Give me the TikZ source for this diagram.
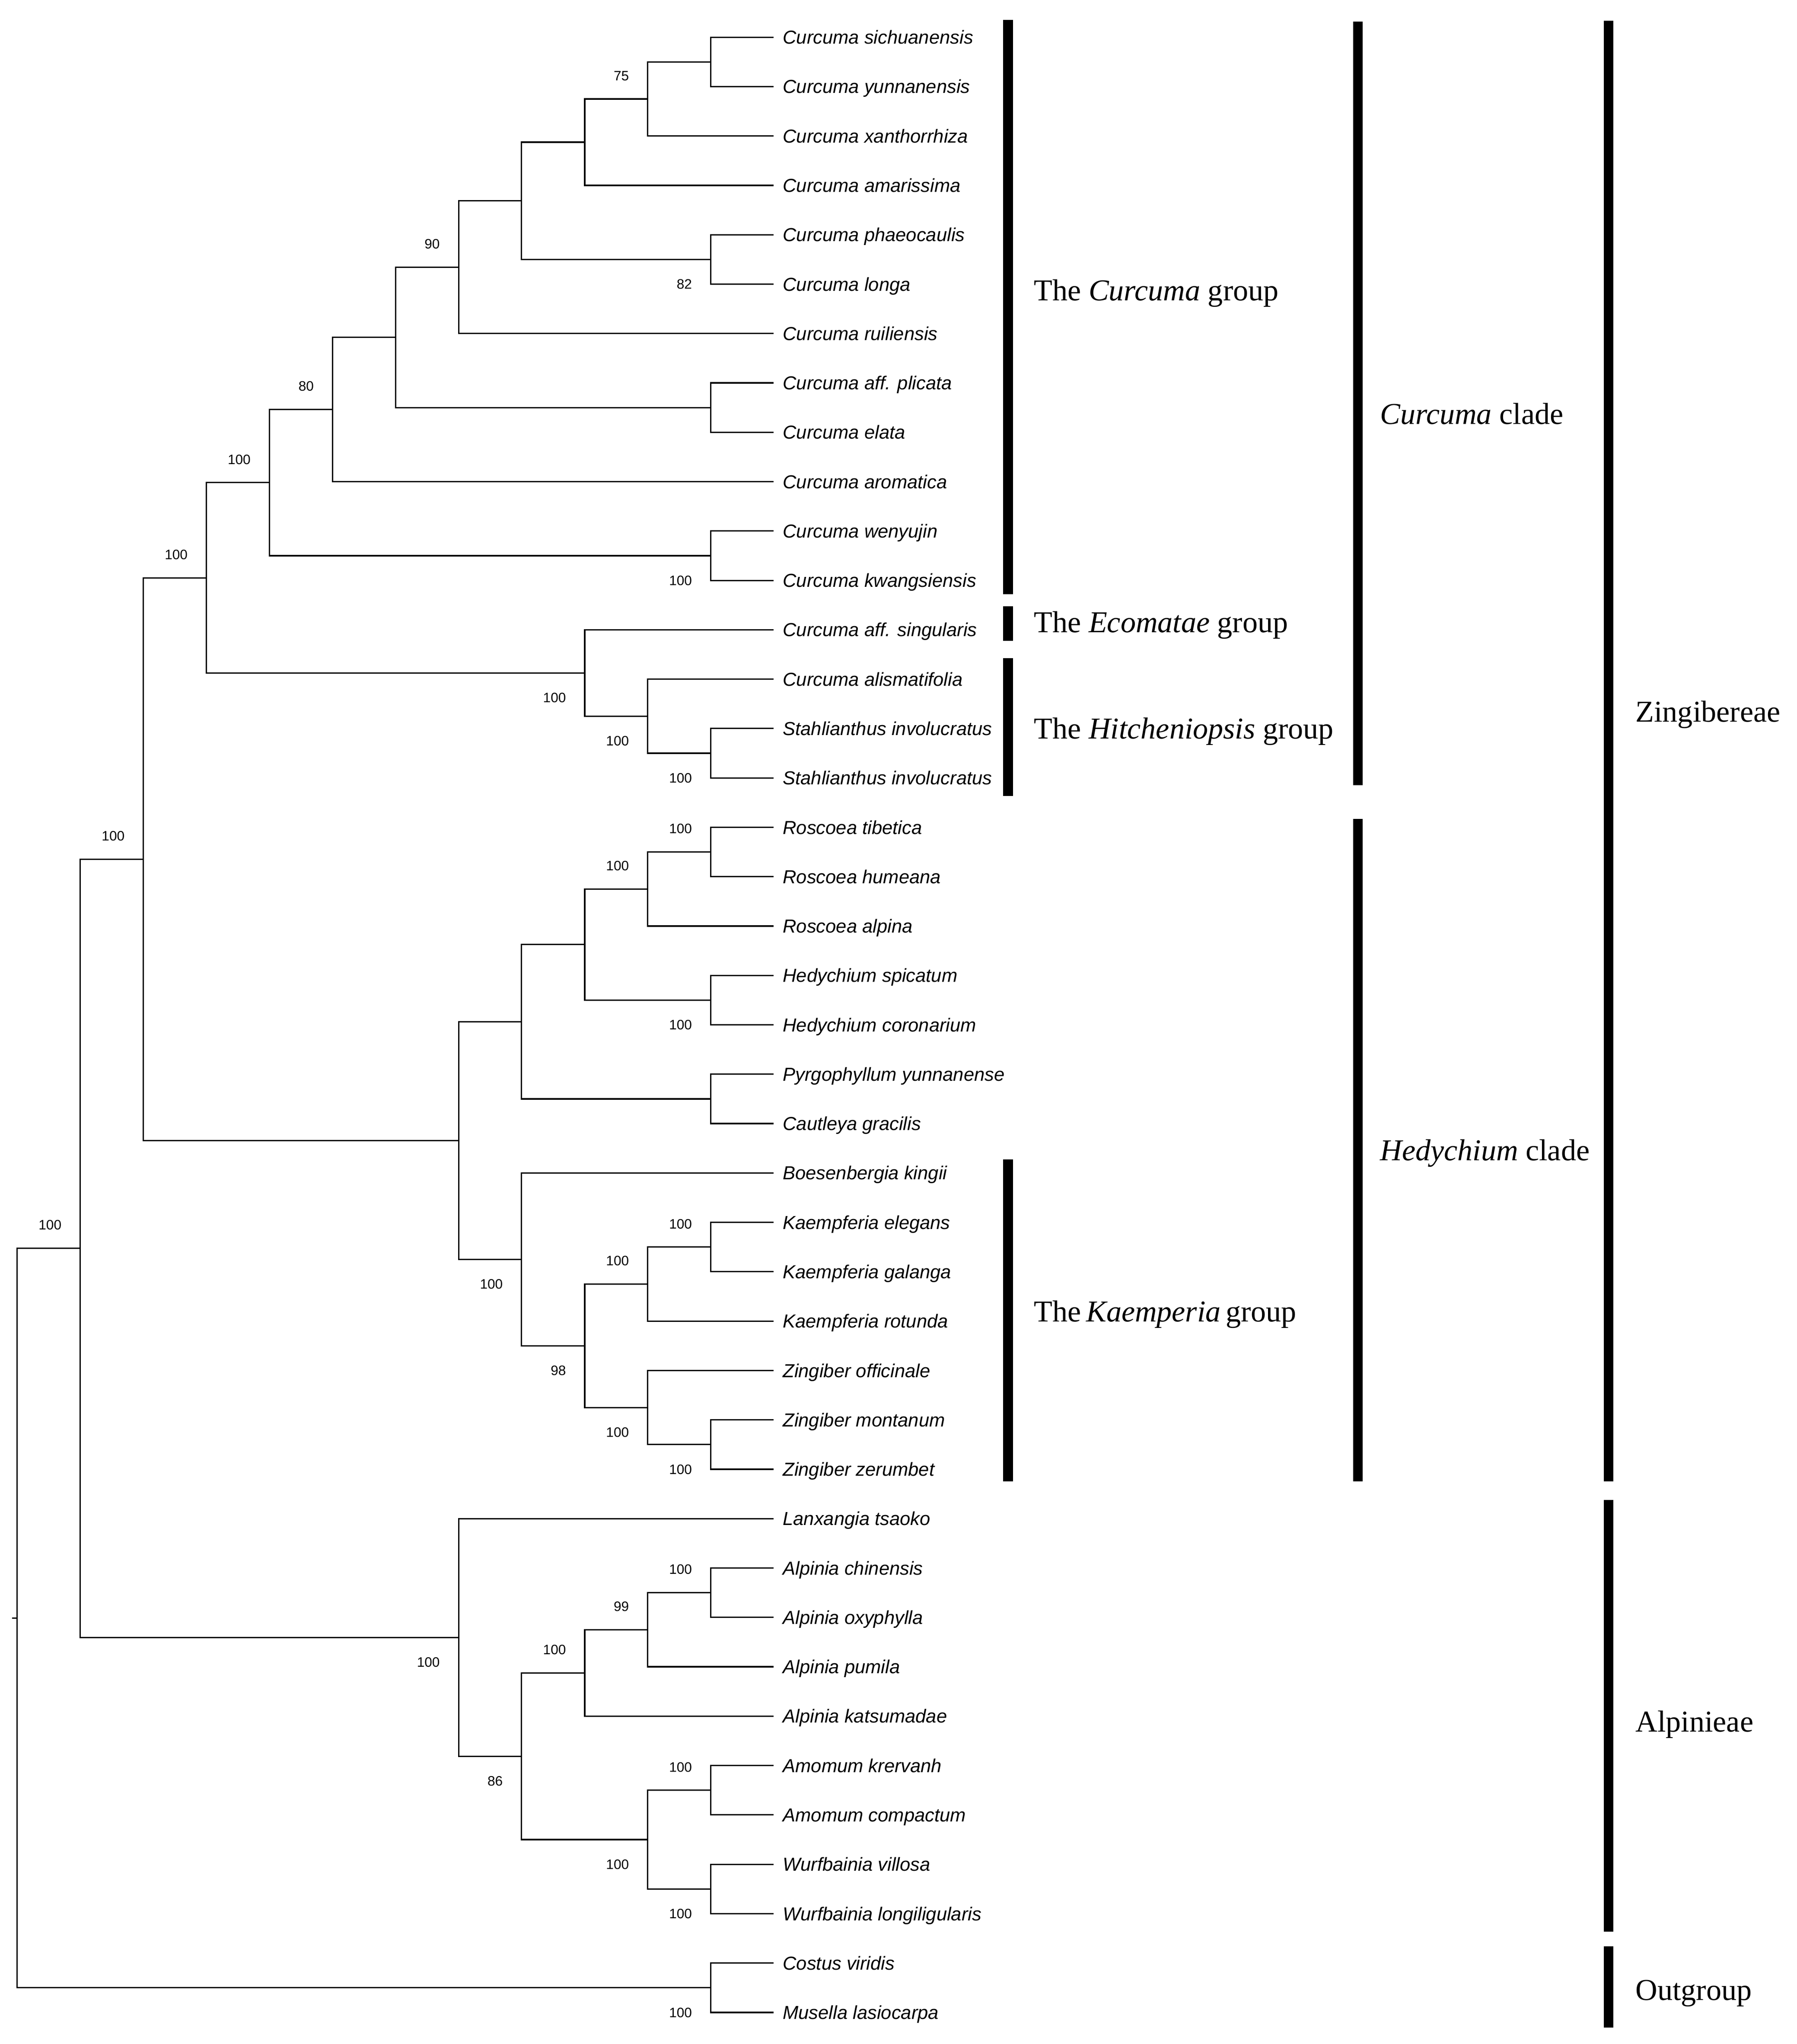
\documentclass[tikz,border=0pt]{standalone}
\usepackage{fontspec}
\setmainfont{Liberation Serif}
\setsansfont{Liberation Sans}

\begin{document}
\begin{tikzpicture}[x=0.02cm,y=-0.02cm,line width=0.6pt,
    leaf/.style={anchor=west,inner xsep=0.13cm,inner ysep=0pt,text height=0.208cm,text depth=0pt,font=\fontsize{8.26}{10}\selectfont\sffamily\itshape},
    boot/.style={anchor=east,inner sep=0pt,text height=0.15cm,text depth=0pt,font=\fontsize{6}{7}\selectfont\sffamily},
    bsa/.style={boot,xshift=-0.28cm,yshift=0.36cm},
    bsb/.style={boot,xshift=-0.28cm,yshift=-0.38cm},
    grp/.style={anchor=west,inner sep=0pt,text height=0.31cm,text depth=0pt,font=\fontsize{13.3}{16}\selectfont},
    bar/.style={line width=0.15cm}]
            \useasboundingbox (0,0) rectangle (1386,1576.67);

            % taxa
            \node [leaf] (sichuanensis) at (596.8,28.70) {Curcuma sichuanensis};
            \node [leaf] (yunnanensis) at (596.8,66.79) {Curcuma yunnanensis};
            \node [leaf] (xanthorrhiza) at (596.8,104.88) {Curcuma xanthorrhiza};
            \node [leaf] (amarissima) at (596.8,142.97) {Curcuma amarissima};
            \node [leaf] (phaeocaulis) at (596.8,181.06) {Curcuma phaeocaulis};
            \node [leaf] (longa) at (596.8,219.15) {Curcuma longa};
            \node [leaf] (ruiliensis) at (596.8,257.24) {Curcuma ruiliensis};
            \node [leaf] (plicata) at (596.8,295.33) {Curcuma aff. plicata};
            \node [leaf] (elata) at (596.8,333.42) {Curcuma elata};
            \node [leaf] (aromatica) at (596.8,371.51) {Curcuma aromatica};
            \node [leaf] (wenyujin) at (596.8,409.60) {Curcuma wenyujin};
            \node [leaf] (kwangsiensis) at (596.8,447.69) {Curcuma kwangsiensis};
            \node [leaf] (singularis) at (596.8,485.78) {Curcuma aff. singularis};
            \node [leaf] (alismatifolia) at (596.8,523.87) {Curcuma alismatifolia};
            \node [leaf] (stahlA) at (596.8,561.96) {Stahlianthus involucratus};
            \node [leaf] (stahlB) at (596.8,600.05) {Stahlianthus involucratus};
            \node [leaf] (tibetica) at (596.8,638.14) {Roscoea tibetica};
            \node [leaf] (humeana) at (596.8,676.23) {Roscoea humeana};
            \node [leaf] (alpina) at (596.8,714.32) {Roscoea alpina};
            \node [leaf] (spicatum) at (596.8,752.41) {Hedychium spicatum};
            \node [leaf] (coronarium) at (596.8,790.50) {Hedychium coronarium};
            \node [leaf] (pyrgo) at (596.8,828.59) {Pyrgophyllum yunnanense};
            \node [leaf] (cautleya) at (596.8,866.68) {Cautleya gracilis};
            \node [leaf] (boesen) at (596.8,904.77) {Boesenbergia kingii};
            \node [leaf] (elegans) at (596.8,942.86) {Kaempferia elegans};
            \node [leaf] (galanga) at (596.8,980.95) {Kaempferia galanga};
            \node [leaf] (rotunda) at (596.8,1019.04) {Kaempferia rotunda};
            \node [leaf] (officinale) at (596.8,1057.13) {Zingiber officinale};
            \node [leaf] (montanum) at (596.8,1095.22) {Zingiber montanum};
            \node [leaf] (zerumbet) at (596.8,1133.31) {Zingiber zerumbet};
            \node [leaf] (tsaoko) at (596.8,1171.40) {Lanxangia tsaoko};
            \node [leaf] (chinensis) at (596.8,1209.49) {Alpinia chinensis};
            \node [leaf] (oxyphylla) at (596.8,1247.58) {Alpinia oxyphylla};
            \node [leaf] (pumila) at (596.8,1285.67) {Alpinia pumila};
            \node [leaf] (katsumadae) at (596.8,1323.76) {Alpinia katsumadae};
            \node [leaf] (krervanh) at (596.8,1361.85) {Amomum krervanh};
            \node [leaf] (compactum) at (596.8,1399.94) {Amomum compactum};
            \node [leaf] (villosa) at (596.8,1438.03) {Wurfbainia villosa};
            \node [leaf] (longilig) at (596.8,1476.12) {Wurfbainia longiligularis};
            \node [leaf] (costus) at (596.8,1514.21) {Costus viridis};
            \node [leaf] (musella) at (596.8,1552.30) {Musella lasiocarpa};

            % inner nodes
            \coordinate (c01) at (548.2,47.75);
            \coordinate (c012) at (499.6,76.31);
            \coordinate (c0123) at (451.0,109.64);
            \coordinate (c45) at (548.2,200.11);
            \coordinate (c0to5) at (402.3,154.88);
            \coordinate (c0to6) at (353.7,206.06);
            \coordinate (c78) at (548.2,314.38);
            \coordinate (c0to8) at (305.1,260.22);
            \coordinate (c0to9) at (256.5,315.87);
            \coordinate (c1011) at (548.2,428.65);
            \coordinate (c0to11) at (207.8,372.26);
            \coordinate (s1415) at (548.2,581.01);
            \coordinate (h1315) at (499.6,552.44);
            \coordinate (e1215) at (451.0,519.11);
            \coordinate (cur) at (159.2,445.69);
            \coordinate (r1617) at (548.2,657.19);
            \coordinate (r1618) at (499.6,685.76);
            \coordinate (h1920) at (548.2,771.46);
            \coordinate (r1620) at (451.0,728.61);
            \coordinate (p2122) at (548.2,847.64);
            \coordinate (r1622) at (402.3,788.13);
            \coordinate (k2425) at (548.2,961.91);
            \coordinate (k2426) at (499.6,990.48);
            \coordinate (z2829) at (548.2,1114.27);
            \coordinate (z2729) at (499.6,1085.70);
            \coordinate (k2429) at (451.0,1038.09);
            \coordinate (k2329) at (402.3,971.43);
            \coordinate (hed) at (353.7,879.78);
            \coordinate (zin) at (110.6,662.74);
            \coordinate (a3132) at (548.2,1228.54);
            \coordinate (a3133) at (499.6,1257.11);
            \coordinate (a3134) at (451.0,1290.44);
            \coordinate (m3536) at (548.2,1380.90);
            \coordinate (w3738) at (548.2,1457.08);
            \coordinate (m3538) at (499.6,1418.99);
            \coordinate (a3138) at (402.3,1354.72);
            \coordinate (alp) at (353.7,1263.06);
            \coordinate (ing) at (61.9,962.90);
            \coordinate (out) at (548.2,1533.26);
            \coordinate (root) at (13.3,1248.08);
            \coordinate (stub) at (9.4,1248.08);

            % branches
            \draw (c01) |- (sichuanensis.west);
            \draw (c01) |- (yunnanensis.west);
            \draw (c012) |- (c01);
            \draw (c012) |- (xanthorrhiza.west);
            \draw (c0123) |- (c012);
            \draw (c0123) |- (amarissima.west);
            \draw (c45) |- (phaeocaulis.west);
            \draw (c45) |- (longa.west);
            \draw (c0to5) |- (c0123);
            \draw (c0to5) |- (c45);
            \draw (c0to6) |- (c0to5);
            \draw (c0to6) |- (ruiliensis.west);
            \draw (c78) |- (plicata.west);
            \draw (c78) |- (elata.west);
            \draw (c0to8) |- (c0to6);
            \draw (c0to8) |- (c78);
            \draw (c0to9) |- (c0to8);
            \draw (c0to9) |- (aromatica.west);
            \draw (c1011) |- (wenyujin.west);
            \draw (c1011) |- (kwangsiensis.west);
            \draw (c0to11) |- (c0to9);
            \draw (c0to11) |- (c1011);
            \draw (s1415) |- (stahlA.west);
            \draw (s1415) |- (stahlB.west);
            \draw (h1315) |- (alismatifolia.west);
            \draw (h1315) |- (s1415);
            \draw (e1215) |- (singularis.west);
            \draw (e1215) |- (h1315);
            \draw (cur) |- (c0to11);
            \draw (cur) |- (e1215);
            \draw (r1617) |- (tibetica.west);
            \draw (r1617) |- (humeana.west);
            \draw (r1618) |- (r1617);
            \draw (r1618) |- (alpina.west);
            \draw (h1920) |- (spicatum.west);
            \draw (h1920) |- (coronarium.west);
            \draw (r1620) |- (r1618);
            \draw (r1620) |- (h1920);
            \draw (p2122) |- (pyrgo.west);
            \draw (p2122) |- (cautleya.west);
            \draw (r1622) |- (r1620);
            \draw (r1622) |- (p2122);
            \draw (k2425) |- (elegans.west);
            \draw (k2425) |- (galanga.west);
            \draw (k2426) |- (k2425);
            \draw (k2426) |- (rotunda.west);
            \draw (z2829) |- (montanum.west);
            \draw (z2829) |- (zerumbet.west);
            \draw (z2729) |- (officinale.west);
            \draw (z2729) |- (z2829);
            \draw (k2429) |- (k2426);
            \draw (k2429) |- (z2729);
            \draw (k2329) |- (boesen.west);
            \draw (k2329) |- (k2429);
            \draw (hed) |- (r1622);
            \draw (hed) |- (k2329);
            \draw (zin) |- (cur);
            \draw (zin) |- (hed);
            \draw (a3132) |- (chinensis.west);
            \draw (a3132) |- (oxyphylla.west);
            \draw (a3133) |- (a3132);
            \draw (a3133) |- (pumila.west);
            \draw (a3134) |- (a3133);
            \draw (a3134) |- (katsumadae.west);
            \draw (m3536) |- (krervanh.west);
            \draw (m3536) |- (compactum.west);
            \draw (w3738) |- (villosa.west);
            \draw (w3738) |- (longilig.west);
            \draw (m3538) |- (m3536);
            \draw (m3538) |- (w3738);
            \draw (a3138) |- (a3134);
            \draw (a3138) |- (m3538);
            \draw (alp) |- (tsaoko.west);
            \draw (alp) |- (a3138);
            \draw (ing) |- (zin);
            \draw (ing) |- (alp);
            \draw (out) |- (costus.west);
            \draw (out) |- (musella.west);
            \draw (root) |- (ing);
            \draw (root) |- (out);
            \draw (root) -- (stub);

            % support values
            \node [bsa] (b1) at (c012) {75};
            \node [bsb] (b2) at (c45) {82};
            \node [bsa] (b3) at (c0to6) {90};
            \node [bsa] (b4) at (c0to9) {80};
            \node [bsa] (b5) at (c0to11) {100};
            \node [bsb] (b6) at (c1011) {100};
            \node [bsa] (b7) at (cur) {100};
            \node [bsb] (b8) at (e1215) {100};
            \node [bsb] (b9) at (h1315) {100};
            \node [bsb] (b10) at (s1415) {100};
            \node [bsa] (b11) at (zin) {100};
            \node [bsa] (b12) at (r1617) {100};
            \node [bsa] (b13) at (r1618) {100};
            \node [bsb] (b14) at (h1920) {100};
            \node [bsa] (b15) at (k2425) {100};
            \node [bsa] (b16) at (k2426) {100};
            \node [bsb] (b17) at (k2329) {100};
            \node [bsb] (b18) at (k2429) {98};
            \node [bsb] (b19) at (z2729) {100};
            \node [bsb] (b20) at (z2829) {100};
            \node [bsa] (b21) at (ing) {100};
            \node [bsa] (b22) at (a3132) {100};
            \node [bsa] (b23) at (a3133) {99};
            \node [bsa] (b24) at (a3134) {100};
            \node [bsb] (b25) at (alp) {100};
            \node [bsb] (b26) at (a3138) {86};
            \node [bsa] (b27) at (m3536) {100};
            \node [bsb] (b28) at (m3538) {100};
            \node [bsb] (b29) at (w3738) {100};
            \node [bsb] (b30) at (out) {100};

            % group bars
            \draw [bar] (777.5,15.3) -- (777.5,458.3);
            \draw [bar] (777.5,467.8) -- (777.5,494.4);
            \draw [bar] (777.5,507.6) -- (777.5,613.9);
            \draw [bar] (777.5,894.4) -- (777.5,1142.6);
            \draw [bar] (1047.3,16.7) -- (1047.3,605.6);
            \draw [bar] (1047.3,631.8) -- (1047.3,1142.6);
            \draw [bar] (1240.7,16.1) -- (1240.7,1142.6);
            \draw [bar] (1240.7,1157.0) -- (1240.7,1490.0);
            \draw [bar] (1240.7,1501.4) -- (1240.7,1563.9);

            \node [grp] (gcur) at (797,224) {The \textit{Curcuma} group};
            \node [grp] (geco) at (797,480) {The \textit{Ecomatae} group};
            \node [grp] (ghit) at (797,562) {The \textit{Hitcheniopsis} group};
            \node [grp] (gkae) at (797,1011.7) {The\,\textit{Kaemperia}\,group};
            \node [grp] (kcur) at (1064,319.5) {\textit{Curcuma} clade};
            \node [grp] (khed) at (1064,887.5) {\textit{Hedychium} clade};
            \node [grp] (tzin) at (1261,549) {Zingibereae};
            \node [grp] (talp) at (1261,1328) {Alpinieae};
            \node [grp] (tout) at (1261,1535) {Outgroup};
\end{tikzpicture}
\end{document}
